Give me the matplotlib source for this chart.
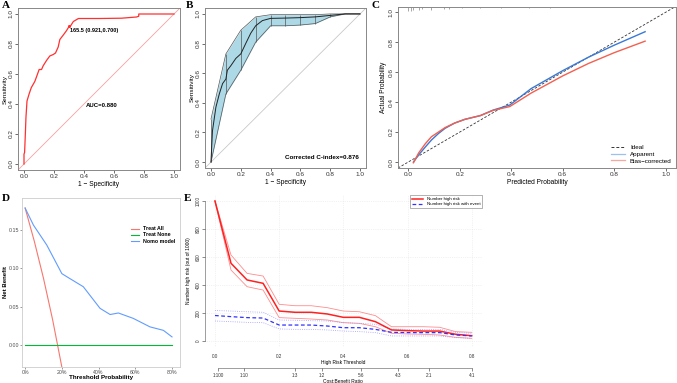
import numpy as np
import matplotlib
matplotlib.use("Agg")
import matplotlib.pyplot as plt
from matplotlib.lines import Line2D

plt.rcParams['font.family'] = ['Liberation Sans', 'DejaVu Sans']

W, H = 677, 383

# ---- panel A: ROC ----
a_fpr = [0, 0, 0.004, 0.009, 0.013, 0.02, 0.035, 0.049, 0.072, 0.083, 0.101, 0.117, 0.128, 0.15,
         0.172, 0.195, 0.21, 0.228, 0.239, 0.262, 0.284, 0.302, 0.31, 0.329, 0.363, 0.5, 0.65,
         0.75, 0.765, 0.765, 1.0]
a_tpr = [0, 0.066, 0.077, 0.2, 0.31, 0.42, 0.47, 0.51, 0.55, 0.58, 0.63, 0.63, 0.655, 0.69,
         0.72, 0.73, 0.74, 0.78, 0.83, 0.86, 0.89, 0.92, 0.92, 0.95, 0.97, 0.97, 0.972,
         0.98, 0.985, 1.0, 1.0]
a_thres_label = "165.5 (0.921,0.700)"
a_auc_label = "AUC=0.880"

# ---- panel B: bootstrap ROC band ----
b_grid = [0, 0.1, 0.2, 0.3, 0.4, 0.5, 0.6, 0.7, 0.8, 0.9, 1.0]
b_upper = [0.29, 0.73, 0.89, 0.98, 0.995, 0.995, 0.995, 0.995, 1.0, 1.0, 1.0]
b_lower = [0.0, 0.46, 0.62, 0.81, 0.92, 0.92, 0.925, 0.935, 0.98, 1.0, 1.0]
b_mean_x = [0, 0.01, 0.033, 0.056, 0.078, 0.1, 0.11, 0.133, 0.167, 0.2, 0.233, 0.267, 0.3,
            0.345, 0.4, 0.5, 0.6, 0.7, 0.8, 0.9, 1.0]
b_mean_y = [0, 0.21, 0.37, 0.46, 0.53, 0.56, 0.62, 0.65, 0.70, 0.73, 0.80, 0.87, 0.92,
            0.955, 0.97, 0.972, 0.975, 0.98, 0.99, 1.0, 1.0]
b_label = "Corrected C-index=0.876"

# ---- panel C: calibration ----
c_pred = [0.02, 0.04, 0.066, 0.09, 0.117, 0.143, 0.18, 0.22, 0.28, 0.33, 0.394, 0.477,
          0.6, 0.7, 0.8, 0.92]
c_apparent = [0.0, 0.047, 0.10, 0.147, 0.19, 0.225, 0.26, 0.285, 0.31, 0.347, 0.38, 0.49,
              0.61, 0.70, 0.78, 0.87]
c_corrected = [-0.005, 0.06, 0.122, 0.169, 0.20, 0.23, 0.26, 0.285, 0.31, 0.345, 0.37, 0.46,
               0.575, 0.658, 0.73, 0.807]
c_rug = [0.0, 0.01, 0.02, 0.04, 0.055, 0.09, 0.14, 0.16, 0.21, 0.28, 0.36, 0.47, 0.55]
c_rug_len = [0.03, 0.025, 0.02, 0.02, 0.015, 0.02, 0.015, 0.012, 0.01, 0.01, 0.01, 0.008, 0.008]

# ---- panel D: decision curve ----
d_all_x = [0, 0.05, 0.1, 0.15, 0.2]
d_all_y = [0.178, 0.135, 0.087, 0.033, -0.028]
d_none_x = [0, 0.8]
d_none_y = [0, 0]
d_nomo_x = [0, 0.045, 0.118, 0.2, 0.227, 0.317, 0.408, 0.463, 0.508, 0.589, 0.68, 0.753, 0.8]
d_nomo_y = [0.178, 0.156, 0.130, 0.093, 0.089, 0.076, 0.048, 0.040, 0.042, 0.035, 0.024, 0.0195, 0.011]
d_xticks = [0, 0.2, 0.4, 0.6, 0.8]
d_xlabels = ["0%", "20%", "40%", "60%", "80%"]

# ---- panel E: clinical impact ----
e_thr = [0, 0.05, 0.1, 0.15, 0.2, 0.25, 0.3, 0.35, 0.4, 0.45, 0.5, 0.55, 0.6, 0.65, 0.7, 0.75, 0.8]
e_risk = [1000, 555, 436, 412, 214, 205, 205, 193, 169, 169, 138, 79, 74, 71, 71, 48, 38]
e_risk_hi = [1000, 614, 483, 464, 262, 252, 252, 238, 214, 209, 181, 102, 102, 102, 98, 67, 62]
e_risk_lo = [1000, 507, 388, 364, 167, 162, 157, 150, 131, 126, 102, 55, 50, 48, 43, 26, 19]
e_event = [182, 174, 167, 164, 114, 114, 114, 107, 95, 95, 83, 62, 60, 60, 60, 43, 36]
e_event_hi = [218, 214, 209, 205, 150, 148, 145, 143, 131, 126, 119, 86, 83, 83, 83, 62, 55]
e_event_lo = [143, 138, 133, 131, 86, 83, 83, 79, 71, 67, 60, 36, 36, 36, 36, 24, 19]
e_cb_pos = [0.0099, 0.0909, 0.25, 0.3333, 0.4545, 0.5714, 0.6667, 0.8]
e_cb_labels = ["1:100", "1:10", "1:3", "1:2", "5:6", "4:3", "2:1", "4:1"]

fig = plt.figure(figsize=(W / 100, H / 100), dpi=100)


def px_axes(x0, y0, x1, y1):
    return fig.add_axes([x0 / W, 1 - y1 / H, (x1 - x0) / W, (y1 - y0) / H])


def r_style(ax, fs=4.6):
    for s in ax.spines.values():
        s.set_color('#888888')
        s.set_linewidth(0.7)
    ax.tick_params(labelsize=fs, length=2, width=0.5, pad=1, colors='#333333')
    ax.tick_params(axis='y', labelrotation=90)
    for t in ax.get_yticklabels():
        t.set_va('center')


def panel_letter(x, y, s):
    fig.text(x / W, 1 - y / H, s, fontsize=8, fontweight='bold',
             family='Liberation Serif', va='top', ha='left')


ticks01 = [0, 0.2, 0.4, 0.6, 0.8, 1.0]

# A
ax = px_axes(18, 8, 180, 170)
ax.axline((0, 0), (1, 1), color='#f4a3a3', lw=0.6)
ax.plot(a_fpr, a_tpr, color='#ff3030', lw=0.9)
ax.plot([0.302], [0.92], 'o', ms=1.2, color='#ff3030')
ax.text(0.305, 0.89, a_thres_label, fontsize=4, fontweight='bold', va='center')
ax.text(0.52, 0.39, a_auc_label, fontsize=4.3, fontweight='bold', ha='center', va='center')
ax.set_xlim(-0.04, 1.04)
ax.set_ylim(-0.04, 1.04)
ax.set_xticks(ticks01)
ax.set_yticks(ticks01)
ax.set_xlabel("1 \u2212 Specificity", fontsize=4.8, labelpad=1)
ax.set_ylabel("Sensitivity", fontsize=4.6, labelpad=0.5)
r_style(ax)
panel_letter(2, 1, "A")

# B
ax = px_axes(205, 8, 366, 168)
ax.axline((0, 0), (1, 1), color='#c8c8c8', lw=0.6)
ax.fill_between(b_grid, b_lower, b_upper, color='#add8e6', lw=0)
ax.plot(b_grid, b_upper, color='#555555', lw=0.5)
ax.plot(b_grid, b_lower, color='#555555', lw=0.5)
ax.vlines(b_grid, b_lower, b_upper, color='#555555', lw=0.5)
ax.plot(b_mean_x, b_mean_y, color='#222222', lw=0.7)
ax.text(0.995, 0.015, b_label, fontsize=4.5, fontweight='bold', ha='right', va='bottom')
ax.set_xlim(-0.04, 1.04)
ax.set_ylim(-0.04, 1.04)
ax.set_xticks(ticks01)
ax.set_yticks(ticks01)
ax.set_xlabel("1 \u2212 Specificity", fontsize=4.8, labelpad=1)
ax.set_ylabel("Sensitivity", fontsize=4.6, labelpad=0.5)
r_style(ax)
panel_letter(186, 1, "B")

# C
ax = px_axes(398, 7, 676, 168)
ax.axline((0, 0), (1, 1), color='#333333', lw=0.6, ls=(0, (3, 2)))
ax.plot(c_pred, c_apparent, color='#3a78d6', lw=1.0)
ax.plot(c_pred, c_corrected, color='#f2604f', lw=1.0)
ax.vlines(c_rug, [1.035 - l for l in c_rug_len], 1.035, color='#666666', lw=0.4)
ax.set_xlim(-0.04, 1.04)
ax.set_ylim(-0.04, 1.035)
ax.set_xticks(ticks01)
ax.set_yticks(ticks01)
ax.set_xlabel("Predicted Probability", fontsize=4.8, labelpad=1.5)
ax.set_ylabel("Actual Probability", fontsize=4.8, labelpad=1)
r_style(ax)
handles = [Line2D([], [], color='#333333', lw=0.7, ls=(0, (3, 2))),
           Line2D([], [], color='#9dc0ef', lw=0.9),
           Line2D([], [], color='#f7a79c', lw=0.9)]
ax.legend(handles, ["Ideal", "Apparent", "Bias\u2212corrected"], loc='lower right',
          fontsize=4.5, frameon=False, handlelength=2.2, borderaxespad=0.3,
          labelspacing=0.25, handletextpad=0.8)
panel_letter(372, 1, "C")

# D
ax = px_axes(22, 198, 180, 367)
ax.plot(d_all_x, d_all_y, color='#F8766D', lw=0.8, label="Treat All")
ax.plot(d_none_x, d_none_y, color='#00BA38', lw=0.8, label="Treat None")
ax.plot(d_nomo_x, d_nomo_y, color='#619CFF', lw=0.8, label="Nomo model")
ax.set_xlim(-0.017, 0.8435)
ax.set_ylim(-0.028, 0.191)
ax.set_xticks(d_xticks)
ax.set_xticklabels(d_xlabels)
ax.set_yticks([0, 0.05, 0.10, 0.15])
ax.set_yticklabels(["0.00", "0.05", "0.10", "0.15"])
for s in ax.spines.values():
    s.set_color('#cccccc')
    s.set_linewidth(0.6)
ax.tick_params(labelsize=3.8, length=1.5, width=0.4, pad=0.8, colors='#4d4d4d')
ax.set_xlabel("Threshold Probability", fontsize=4.5, fontweight='bold', labelpad=0)
ax.set_ylabel("Net Benefit", fontsize=4.3, fontweight='bold', labelpad=0.5)
ax.legend(loc='upper left', bbox_to_anchor=(0.66, 0.86), frameon=False,
          handlelength=1.5, labelspacing=0.2, prop={'weight': 'bold', 'size': 3.8})
panel_letter(2, 194, "D")

# E
ax = px_axes(204.7, 195.4, 482, 346.6)
ax.set_xlim(-0.032, 0.832)
ax.set_ylim(-40, 1040)
for gx in [0, 0.2, 0.4, 0.6, 0.8]:
    ax.axvline(gx, color='#e6e6e6', lw=0.5, ls=':', zorder=0)
for gy in [0, 200, 400, 600, 800, 1000]:
    ax.axhline(gy, color='#e6e6e6', lw=0.5, ls=':', zorder=0)
ax.plot(e_thr, e_risk_hi, color='#ff8c8c', lw=0.6)
ax.plot(e_thr, e_risk_lo, color='#ff8c8c', lw=0.6)
ax.plot(e_thr, e_event_hi, color='#9a9aff', lw=0.6, ls=':')
ax.plot(e_thr, e_event_lo, color='#9a9aff', lw=0.6, ls=':')
ax.plot(e_thr, e_risk, color='#ff2020', lw=1.1)
ax.plot(e_thr, e_event, color='#3030ff', lw=0.9, ls=(0, (3, 2)))
for side in ['top', 'right', 'bottom']:
    ax.spines[side].set_visible(False)
ax.spines['left'].set_bounds(0, 1000)
ax.spines['left'].set_linewidth(0.4)
ax.spines['left'].set_color('#555555')
ax.set_yticks([0, 200, 400, 600, 800, 1000])
ax.set_xticks([0, 0.2, 0.4, 0.6, 0.8])
ax.tick_params(axis='y', labelsize=3.3, length=2, width=0.4, pad=1, labelrotation=90, colors='#333333')
for t in ax.get_yticklabels():
    t.set_va('center')
ax.tick_params(axis='x', labelsize=3.3, length=0, pad=5.5, colors='#333333')
ax.set_xlabel("High Risk Threshold", fontsize=3.5, labelpad=0.8)
ax.set_ylabel("Number high risk (out of 1000)", fontsize=3.5, labelpad=3)
sec = ax.secondary_xaxis(-0.142)
sec.set_xticks(e_cb_pos)
sec.set_xticklabels(e_cb_labels)
sec.spines['bottom'].set_bounds(e_cb_pos[0], e_cb_pos[-1])
sec.spines['bottom'].set_linewidth(0.4)
sec.spines['bottom'].set_color('#555555')
sec.tick_params(labelsize=3.3, length=2, width=0.4, pad=1.5, colors='#333333')
sec.set_xlabel("Cost:Benefit Ratio", fontsize=3.5, labelpad=0.5)
leg_handles = [Line2D([], [], color='#ff2020', lw=1.1),
               Line2D([], [], color='#3030ff', lw=0.9, ls=(0, (3, 2)))]
leg = ax.legend(leg_handles, ["Number high risk", "Number high risk with event"],
                loc='upper right', fontsize=3.2, frameon=True, fancybox=False,
                borderaxespad=0, handlelength=2.5, labelspacing=0.2, borderpad=0.4)
leg.get_frame().set_edgecolor('#555555')
leg.get_frame().set_linewidth(0.4)
panel_letter(184, 194, "E")

fig.savefig("out.png", dpi=100)
